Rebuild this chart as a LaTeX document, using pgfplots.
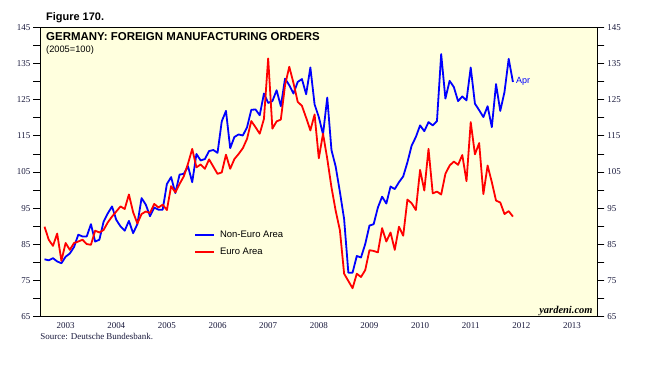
\documentclass[border=0pt]{standalone}
\usepackage{fontspec}
\setmainfont{Liberation Serif}
\setsansfont{Liberation Sans}
\usepackage{pgfplots}
\usepackage{pgfplotstable}
\pgfplotsset{compat=1.18}
\definecolor{bgyellow}{RGB}{255,255,222}
\definecolor{tickcol}{RGB}{25,25,60}
\definecolor{nblue}{RGB}{0,0,255}
\definecolor{ered}{RGB}{255,0,0}

\pgfplotstableread{
i nonEuro euro
0 80.9 89.9
1 80.6 86.3
2 81.2 84.6
3 80.3 88.0
4 79.8 80.5
5 81.6 85.4
6 82.5 83.5
7 84.3 85.4
8 87.7 85.8
9 87.2 86.3
10 87.2 85.1
11 90.6 84.9
12 85.8 88.8
13 86.3 88.3
14 91.3 89.0
15 93.6 91.1
16 95.5 92.7
17 91.8 94.1
18 90.0 95.5
19 88.8 94.8
20 91.5 98.8
21 88.1 93.9
22 90.6 90.8
23 97.8 93.4
24 96.0 94.1
25 92.8 93.7
26 95.2 96.2
27 94.6 95.2
28 94.6 96.0
29 101.7 94.5
30 103.6 101.1
31 99.2 99.4
32 104.3 101.7
33 104.5 103.8
34 106.6 107.3
35 102.2 111.4
36 110.0 106.3
37 108.2 107.1
38 108.6 105.9
39 110.8 108.5
40 111.1 106.5
41 110.3 104.5
42 119.0 104.9
43 121.9 109.8
44 111.6 105.9
45 114.7 108.6
46 115.4 110.0
47 115.1 111.6
48 117.4 114.2
49 122.2 119.1
50 122.3 117.4
51 120.7 115.6
52 126.7 119.7
53 124.1 136.4
54 124.6 117.0
55 127.6 119.0
56 123.2 119.5
57 130.8 129.0
58 129.0 134.1
59 126.7 129.6
60 129.9 124.4
61 130.7 123.3
62 126.5 120.0
63 133.9 116.5
64 123.7 120.9
65 120.2 108.8
66 115.4 115.6
67 125.6 108.7
68 111.1 100.8
69 106.5 94.3
70 99.5 88.9
71 92.0 76.9
72 77.2 74.9
73 77.2 72.9
74 81.8 76.9
75 81.4 76.0
76 85.1 77.9
77 90.2 83.4
78 90.6 83.2
79 95.2 82.8
80 98.2 89.5
81 96.3 85.8
82 101.0 88.3
83 100.3 83.5
84 102.2 89.9
85 103.8 87.4
86 107.7 97.4
87 112.3 96.4
88 114.7 94.5
89 117.9 105.6
90 116.3 99.9
91 118.8 111.4
92 117.9 99.1
93 119.1 99.6
94 137.6 98.8
95 125.3 104.5
96 130.2 106.8
97 128.5 107.9
98 124.6 107.0
99 125.9 109.7
100 124.8 102.5
101 133.9 118.8
102 123.9 109.9
103 122.1 113.0
104 120.2 98.9
105 123.2 106.8
106 117.4 102.2
107 129.3 97.1
108 121.9 96.6
109 127.1 93.4
110 136.3 94.2
111 129.9 92.7
}\datatable

\begin{document}
\begin{tikzpicture}[x=1bp,y=1bp]
\useasboundingbox (0,0) rectangle (647,375);
\pgfplotsset{
  commonaxis/.style={
    at={(40.3bp,58.2bp)}, anchor=south west,
    scale only axis, width=557bp, height=289.5bp,
    xmin=-1, xmax=131, ymin=65, ymax=145,
    ytick={65,75,...,145}, minor ytick={70,80,...,140},
    tick align=outside, major tick length=7bp, minor tick length=7bp,
    tick style={black, line width=0.8bp},
    ticklabel style={font=\fontsize{9}{10}\selectfont, text=tickcol},
    /pgf/number format/assume math mode=true,
    axis line style={black, line width=0.9bp},
  }
}
\begin{axis}[commonaxis,
  axis background/.style={fill=bgyellow},
  ytick pos=both, yticklabel pos=left,
  xtick={5,17,...,125},
  xticklabels={2003,2004,2005,2006,2007,2008,2009,2010,2011,2012,2013},
  minor xtick={-1,11,...,131},
  xtick pos=left,
  xtick style={draw=none},
  minor x tick style={black, line width=0.8bp},
  xticklabel style={yshift=4.5bp},
  yticklabel style={xshift=0.5bp},
  legend style={at={(axis description cs:0.2765,0.252)}, anchor=west,
    draw=none, fill=none, inner sep=0pt, outer sep=0pt,
    font=\sffamily\fontsize{9.5}{10}\selectfont,
    row sep=5bp, column sep=3bp},
  legend cell align=left,
  legend image code/.code={\draw[#1] (0bp,0bp) -- (19bp,0bp);},
]
\addplot[nblue, line width=1.8bp, line join=round, forget plot] table[x=i, y=nonEuro] {\datatable};
\addplot[ered, line width=1.8bp, line join=round, forget plot] table[x=i, y=euro] {\datatable};
\addlegendimage{nblue, line width=1.8bp}
\addlegendentry{Non-Euro Area}
\addlegendimage{ered, line width=1.8bp}
\addlegendentry{Euro Area}
\end{axis}
\begin{axis}[commonaxis,
  hide x axis,
  axis y line*=right,
  ytick pos=right, yticklabel pos=right,
  minor ytick={70,80,...,140},
  yticklabel style={xshift=-0.5bp},
]
\end{axis}
% texts
\node[anchor=base west, inner sep=0pt, font=\sffamily\bfseries\fontsize{11}{12}\selectfont] at (46,354.3) {Figure 170.};
\node[anchor=base west, inner sep=0pt, font=\sffamily\bfseries\fontsize{11.5}{12}\selectfont] at (46,334.3) {GERMANY: FOREIGN MANUFACTURING ORDERS};
\node[anchor=base west, inner sep=0pt, font=\sffamily\fontsize{9.3}{10}\selectfont] at (46,322.3) {(2005=100)};
\node[anchor=west, inner sep=0pt, text=nblue, font=\sffamily\fontsize{9}{10}\selectfont] at (516,293.3) {Apr};
\node[anchor=base east, inner sep=0pt, font=\bfseries\itshape\fontsize{10.5}{11}\selectfont] at (592.7,62) {yardeni.com};
\node[anchor=base west, inner sep=0pt, text=tickcol, font=\fontsize{9}{10}\selectfont] at (40.3,35.7) {Source: Deutsche Bundesbank.};
\end{tikzpicture}
\end{document}
